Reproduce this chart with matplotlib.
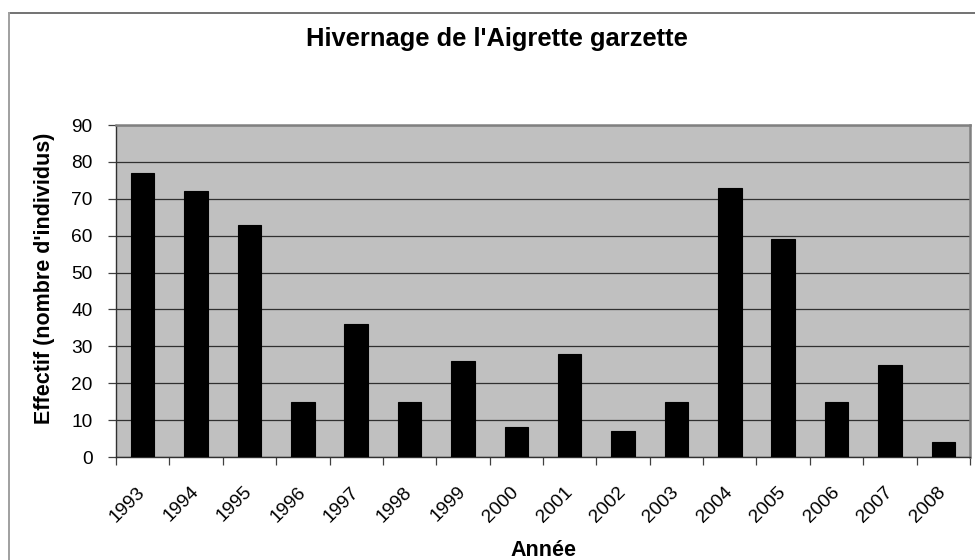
import matplotlib
matplotlib.use('Agg')
import matplotlib.pyplot as plt
from matplotlib.lines import Line2D
from matplotlib.ticker import FixedLocator
from matplotlib.transforms import ScaledTranslation

plt.rcParams['font.family'] = ['Liberation Sans', 'DejaVu Sans']

# data
years = ['1993', '1994', '1995', '1996', '1997', '1998', '1999', '2000',
         '2001', '2002', '2003', '2004', '2005', '2006', '2007', '2008']
effectif = [77, 72, 63, 15, 36, 15, 26, 8, 28, 7, 15, 73, 59, 15, 25, 4]
yticks = [0, 10, 20, 30, 40, 50, 60, 70, 80, 90]

W, H = 975, 560
fig = plt.figure(figsize=(W / 100, H / 100), dpi=100)
fig.patch.set_facecolor('white')

# plot area in pixels: x 116..970, y 125..457
ax = fig.add_axes([116 / W, 1 - 457 / H, (970 - 116) / W, (457 - 125) / H])
ax.set_facecolor('#c0c0c0')

x = list(range(len(years)))
ax.bar(x, effectif, width=0.44, color='black', edgecolor='black', linewidth=0.8, zorder=3)

ax.set_xlim(-0.5, len(years) - 0.5)
ax.set_ylim(0, 90)
ax.set_yticks(yticks)
ax.yaxis.grid(True, color='#303030', linewidth=0.9, zorder=1)
ax.set_axisbelow(True)

# x ticks on category boundaries, labels on centres
ax.xaxis.set_major_locator(FixedLocator([i - 0.5 for i in range(len(years) + 1)]))
ax.xaxis.set_major_formatter(plt.NullFormatter())
ax.xaxis.set_minor_locator(FixedLocator(x))
ax.set_xticklabels(years, minor=True)
ax.tick_params(axis='x', which='major', length=6, width=0.9, color='#404040', direction='out')
ax.tick_params(axis='x', which='minor', length=0, pad=19, labelsize=13.8)
shift = ScaledTranslation(-6 / 100, 0, fig.dpi_scale_trans)
for lab in ax.get_xticklabels(minor=True):
    lab.set_rotation(45)
    lab.set_ha('right')
    lab.set_va('top')
    lab.set_rotation_mode('anchor')
    lab.set_transform(lab.get_transform() + shift)
ax.tick_params(axis='y', length=6, width=0.9, color='#404040', pad=11, labelsize=13.8)

for side in ['left', 'bottom']:
    ax.spines[side].set_color('#303030')
    ax.spines[side].set_linewidth(1.0)
for side in ['top', 'right']:
    ax.spines[side].set_color('#808080')
    ax.spines[side].set_linewidth(1.8)

ax.set_ylabel("Effectif (nombre d'individus)", fontsize=15.5, fontweight='bold')
ax.yaxis.set_label_coords((55 - 116) / (970 - 116), 0.5 + 13 / 332)
ax.set_xlabel('Année', fontsize=15.5, fontweight='bold', va='top')
ax.xaxis.set_label_coords(0.5, -(540 - 457) / 332)

fig.text(497 / W, 1 - 39 / H, "Hivernage de l'Aigrette garzette",
         ha='center', va='center', fontsize=18.4, fontweight='bold')

# outer chart frame
fig.add_artist(Line2D([9 / W, 1.0], [1 - 13 / H, 1 - 13 / H], transform=fig.transFigure,
                      color='#5a5a5a', linewidth=1.2))
fig.add_artist(Line2D([9 / W, 9 / W], [0.0, 1 - 13 / H], transform=fig.transFigure,
                      color='#a0a0a0', linewidth=1.4))

fig.savefig('out.png', dpi=100)
